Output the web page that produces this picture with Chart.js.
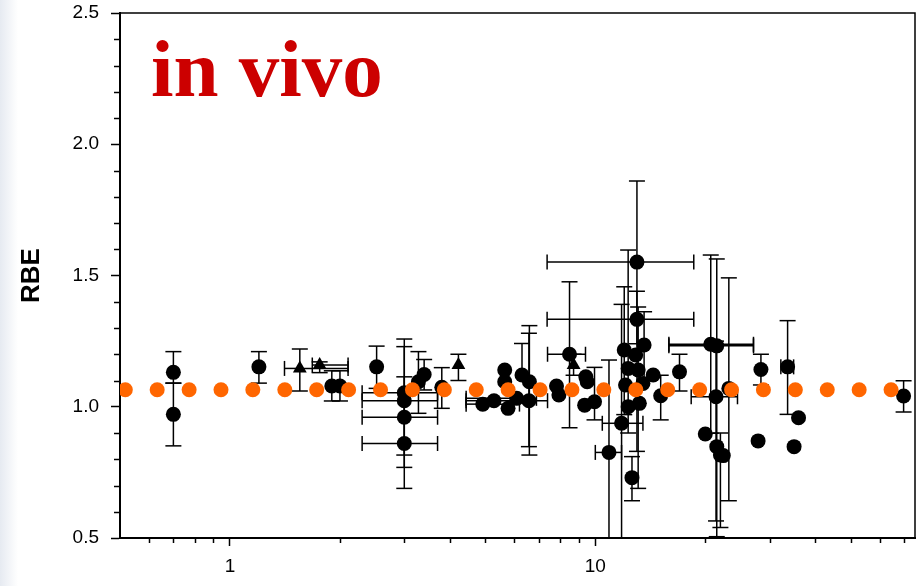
<!DOCTYPE html>
<html><head><meta charset="utf-8">
<script src="https://cdn.jsdelivr.net/npm/chart.js@4.4.1/dist/chart.umd.min.js"></script>
<style>
html,body{margin:0;padding:0;background:#fff;}
#wrap{position:relative;width:923px;height:586px;overflow:hidden;}
#edge{position:absolute;left:0;top:0;width:18px;height:586px;background:linear-gradient(to right,#e6eaf1,#ffffff);}
#c{position:absolute;left:0;top:0;}
#title{position:absolute;left:151px;top:29px;font:bold 81px "Liberation Serif",serif;line-height:1;color:#cc0000;white-space:nowrap;}
</style></head><body>
<div id="wrap"><div id="edge"></div><canvas id="c" width="923" height="586"></canvas><div id="title">in vivo</div></div>
<script>
// ---- data ----
const orangeX = [0.517,0.632,0.773,0.945,1.155,1.413,1.727,2.112,2.583,3.158,3.862,4.722,5.773,7.061,8.63,10.55,12.91,15.78,19.30,23.60,28.85,35.28,43.14,52.75,64.50];
const orangeY = [1.065,1.065,1.065,1.065,1.065,1.065,1.065,1.065,1.065,1.065,1.065,1.065,1.065,1.065,1.065,1.065,1.065,1.065,1.065,1.065,1.065,1.065,1.065,1.065,1.065];

const circX = [0.70,0.70,1.20,1.90,2.00,2.52,3.00,3.00,3.00,3.00,
  3.28,3.40,3.80,4.92,5.28,5.65,5.65,5.77,6.09,6.30,
  6.60,6.58,7.83,7.95,8.50,9.42,9.50,9.35,9.95,10.9,
  11.8,12.0,12.3,12.1,12.3,12.6,12.9,13.0,13.0,13.1,
  13.2,13.5,13.6,14.4,15.1,17.0,20.0,20.7,21.5,21.4,
  21.5,22.0,22.4,23.2,28.4,27.9,33.6,36.0,35.0,69.8];
const circY = [1.131,0.971,1.152,1.079,1.079,1.152,1.053,1.023,0.960,0.860,
  1.095,1.123,1.074,1.010,1.023,1.140,1.095,0.994,1.032,1.121,
  1.095,1.023,1.079,1.045,1.200,1.114,1.095,1.006,1.019,0.826,
  0.937,1.216,1.146,1.083,1.000,0.730,1.197,1.551,1.333,1.140,
  1.013,1.089,1.235,1.121,1.042,1.133,0.896,1.238,1.232,1.038,
  0.848,0.816,0.814,1.070,1.142,0.870,1.152,0.958,0.848,1.041];
const circXLo = [null,null,null,null,null,null,2.30,2.30,2.30,2.30,
  null,null,null,4.43,4.43,null,null,null,4.43,null,
  null,null,null,null,7.40,null,null,null,null,10.0,
  10.45,null,null,null,null,null,null,7.38,7.38,null,
  null,null,null,null,null,null,null,15.9,15.9,18.3,
  null,null,null,null,null,null,32.2,null,null,null];
const circXHi = [null,null,null,null,null,null,3.70,3.70,3.70,3.70,
  null,null,null,6.20,7.40,null,null,null,6.90,null,
  null,null,null,null,9.40,null,null,null,null,11.8,
  13.5,null,null,null,null,null,null,18.6,18.6,null,
  null,null,null,null,null,null,null,27.1,27.1,24.5,
  null,null,null,null,null,null,34.9,null,null,null];
const circYLo = [1.09,0.851,1.09,1.022,1.022,1.07,0.689,0.769,0.816,null,
  0.975,1.064,0.994,null,null,null,null,null,null,null,
  0.816,0.848,null,null,0.92,null,null,null,0.95,0.30,
  0.30,0.97,0.90,null,null,0.642,null,1.24,0.83,0.689,
  null,null,1.10,null,0.95,1.06,null,0.899,0.505,0.565,
  null,0.54,null,0.642,1.083,null,0.971,null,null,0.98];
const circYHi = [1.21,1.09,1.21,1.137,1.137,1.231,1.258,1.229,1.114,null,
  1.21,1.18,1.149,null,null,null,null,null,null,1.241,
  1.309,1.28,null,null,1.476,null,null,null,1.15,1.178,
  1.39,1.457,1.597,null,null,0.81,null,1.86,1.44,1.38,
  null,null,1.362,null,1.12,1.20,null,1.578,1.563,1.25,
  null,0.90,null,1.491,1.20,null,1.328,null,null,1.099];

const triX = [1.553,1.76,4.22,8.72];
const triY = [1.146,1.159,1.159,1.159];
const triXLo = [1.41,1.68,null,null];
const triXHi = [2.105,2.105,null,null];
const triYLo = [1.06,1.13,1.10,1.12];
const triYHi = [1.22,1.171,1.20,1.20];

const xTickValues = [0.6,0.7,0.8,0.9,1,2,3,4,5,6,7,8,9,10,20,30,40,50,60,70];
const xTickLabels = {1:'1',10:'10'};
const yTickValues = [0.5,0.6,0.7,0.8,0.9,1.0,1.1,1.2,1.3,1.4,1.5,1.6,1.7,1.8,1.9,2.0,2.1,2.2,2.3,2.4,2.5];
const yMajor = [0.5,1.0,1.5,2.0,2.5];

// ---- helpers ----
const isXMajor = v => xTickLabels[v] !== undefined;
const isYMajor = v => yMajor.some(m => Math.abs(m - v) < 1e-6);

const errGroups = [
  {x:circX,y:circY,xlo:circXLo,xhi:circXHi,ylo:circYLo,yhi:circYHi},
  {x:triX,y:triY,xlo:triXLo,xhi:triXHi,ylo:triYLo,yhi:triYHi}
];

const custom = {
  id:'custom',
  beforeDatasetsDraw(chart){
    const {ctx, chartArea:a, scales:{x:sx,y:sy}} = chart;
    ctx.save();
    ctx.beginPath(); ctx.rect(a.left,a.top,a.right-a.left,a.bottom-a.top); ctx.clip();
    ctx.strokeStyle='#000'; ctx.lineWidth=1.5; ctx.lineCap='butt';
    const cap=8, capH=7.5;
    errGroups.forEach(g=>{
      g.x.forEach((xv,i)=>{
        const px=sx.getPixelForValue(xv), py=sy.getPixelForValue(g.y[i]);
        const seg=(x1,y1,x2,y2)=>{ctx.beginPath();ctx.moveTo(x1,y1);ctx.lineTo(x2,y2);ctx.stroke();};
        if(g.yhi[i]!=null){const p=sy.getPixelForValue(g.yhi[i]);seg(px,py,px,p);seg(px-cap,p,px+cap,p);}
        if(g.ylo[i]!=null){const p=sy.getPixelForValue(g.ylo[i]);seg(px,py,px,p);seg(px-cap,p,px+cap,p);}
        if(g.xlo[i]!=null){const p=sx.getPixelForValue(g.xlo[i]);seg(px,py,p,py);seg(p,py-capH,p,py+capH);}
        if(g.xhi[i]!=null){const p=sx.getPixelForValue(g.xhi[i]);seg(px,py,p,py);seg(p,py-capH,p,py+capH);}
      });
    });
    ctx.restore();
  },
  afterDraw(chart){
    const {ctx, chartArea:a, scales:{x:sx,y:sy}} = chart;
    ctx.save();
    ctx.strokeStyle='#000'; ctx.lineWidth=1.5;
    xTickValues.filter(v=>!isXMajor(v)).forEach(v=>{
      const p=Math.round(sx.getPixelForValue(v))+0.5;
      ctx.beginPath();ctx.moveTo(p,a.bottom);ctx.lineTo(p,a.bottom+5);ctx.stroke();
    });
    yTickValues.filter(v=>!isYMajor(v)).forEach(v=>{
      const p=Math.round(sy.getPixelForValue(v))+0.5;
      ctx.beginPath();ctx.moveTo(a.left,p);ctx.lineTo(a.left-6,p);ctx.stroke();
    });
    ctx.beginPath();
    ctx.moveTo(a.left,a.top);ctx.lineTo(a.right,a.top);ctx.lineTo(a.right,a.bottom);
    ctx.stroke();
    ctx.restore();
  }
};

new Chart(document.getElementById('c'),{
  type:'scatter',
  data:{datasets:[
    {label:'model',data:orangeX.map((x,i)=>({x,y:orangeY[i]})),backgroundColor:'#ff6600',borderWidth:0,pointRadius:7.5,pointHoverRadius:7.5},
    {label:'data',data:circX.map((x,i)=>({x,y:circY[i]})),backgroundColor:'#000',borderWidth:0,pointRadius:7.5,pointHoverRadius:7.5},
    {label:'tri',data:triX.map((x,i)=>({x,y:triY[i]})),backgroundColor:'#000',borderWidth:0,pointStyle:'triangle',pointRadius:8,pointHoverRadius:8}
  ]},
  options:{
    responsive:false, animation:false, devicePixelRatio:1,
    layout:{padding:{top:13,right:7,left:0,bottom:0}},
    plugins:{legend:{display:false},tooltip:{enabled:false}},
    scales:{
      x:{type:'logarithmic',position:'bottom',min:0.5,max:75,
        border:{display:true,color:'#000',width:2},
        grid:{drawOnChartArea:false,drawTicks:true,tickLength:8,tickWidth:1.5,
          tickColor:c=>(c.tick && isXMajor(c.tick.value))?'#000':'rgba(0,0,0,0)'},
        ticks:{color:'#000',font:{family:'"Liberation Sans", Arial, sans-serif',size:19},padding:9,autoSkip:false,maxRotation:0,
          callback:v=>xTickLabels[v]!==undefined?xTickLabels[v]:''},
        afterBuildTicks:s=>{s.ticks=xTickValues.map(v=>({value:v}));},
        afterFit:s=>{s.height=48;s.paddingLeft=0;s.paddingRight=0;}
      },
      y:{type:'linear',min:0.5,max:2.5,
        border:{display:true,color:'#000',width:2},
        grid:{drawOnChartArea:false,drawTicks:true,tickLength:9,tickWidth:1.5,
          tickColor:c=>(c.tick && isYMajor(c.tick.value))?'#000':'rgba(0,0,0,0)'},
        ticks:{color:'#000',font:{family:'"Liberation Sans", Arial, sans-serif',size:19},padding:12,autoSkip:false,
          callback:v=>isYMajor(v)?v.toFixed(1):''},
        afterBuildTicks:s=>{s.ticks=yTickValues.map(v=>({value:v}));},
        title:{display:true,text:'RBE',color:'#000',font:{family:'"Liberation Sans", Arial, sans-serif',size:26,weight:'bold'},padding:{top:16,bottom:0}},
        afterFit:s=>{s.width=120;s.paddingTop=0;s.paddingBottom=0;}
      }
    }
  },
  plugins:[custom]
});
</script>
</body></html>
